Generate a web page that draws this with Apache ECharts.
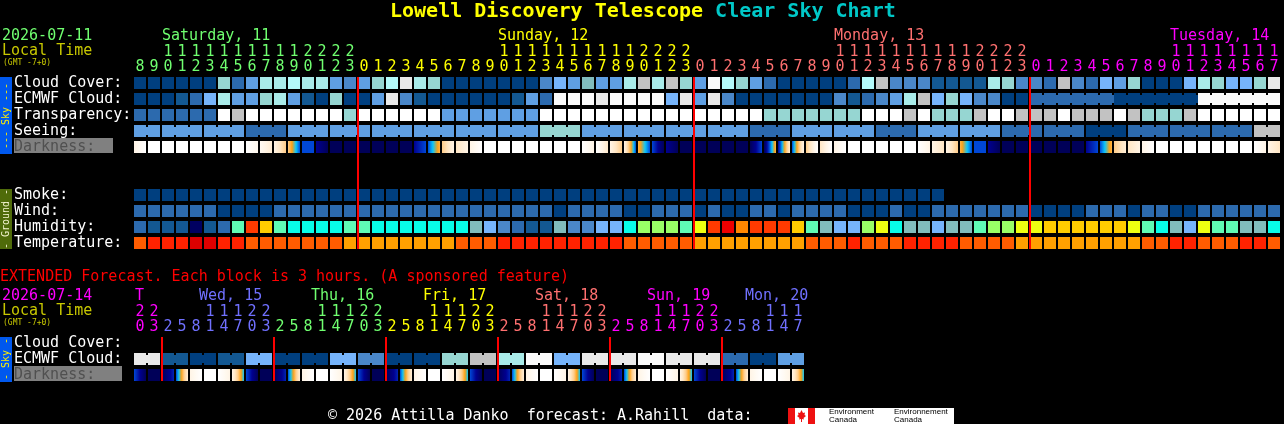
<!DOCTYPE html>
<html>
<head>
<meta charset="utf-8">
<style>html,body{margin:0;padding:0;background:#000;overflow:hidden}#c{width:1284px;height:424px}</style>
<script src="https://cdn.jsdelivr.net/npm/echarts@6/dist/echarts.min.js"></script>
</head>
<body>
<div id="c"></div>
<script>
// ---------- data ----------
const hoursMain = ["08","09","10","11","12","13","14","15","16","17","18","19","20","21","22","23",
 "00","01","02","03","04","05","06","07","08","09","10","11","12","13","14","15","16","17","18","19","20","21","22","23",
 "00","01","02","03","04","05","06","07","08","09","10","11","12","13","14","15","16","17","18","19","20","21","22","23",
 "00","01","02","03","04","05","06","07","08","09","10","11","12","13","14","15","16","17"];
const hoursExt = ["20","23","02","05","08","11","14","17","20","23","02","05","08","11","14","17","20","23",
 "02","05","08","11","14","17","20","23","02","05","08","11","14","17","20","23","02","05","08","11","14","17","20","23",
 "02","05","08","11","14","17"];
const rowsMain = ["Cloud Cover:","ECMWF Cloud:","Transparency:","Seeing:","Darkness:","","","Smoke:","Wind:","Humidity:","Temperature:"];
const rowsExt = ["Cloud Cover:","ECMWF Cloud:","Darkness:"];

const cloud = [0,0,0,0,0,0,7,2,4,8,8,12,8,8,4,3,4,7,12,10,8,7,
 0,0,0,0,0,0,0,3,5,4,6,4,4,8,9,8,9,7,4,11,12,7,4,2,0,0,0,0,0,2,
 12,9,3,3,3,1,1,1,1,8,7,3,3,2,9,3,2,5,4,7,0,0,0,5,8,7,5,5,7,10];
const ecmwf = [0,0,0,1,2,5,8,4,4,7,8,4,1,0,7,0,0,4,10,3,1,0,
 0,0,0,0,0,1,4,2,11,11,11,10,11,11,11,11,5,10,4,10,3,0,0,0,0,0,0,0,3,1,
 2,3,4,8,9,5,7,5,3,3,0,0,2,2,2,2,2,2,0,0,0,0,0,0,11,11,11,11,11,11];
const transparency = [2,2,2,2,2,2,13,9,13,13,13,13,13,13,13,7,13,13,13,13,13,13,
 4,4,4,4,4,4,4,13,13,13,13,13,13,13,13,13,13,13,13,13,13,13,13,7,7,7,7,7,7,7,
 13,13,13,9,13,7,7,7,9,13,13,9,9,9,13,9,9,9,13,9,7,7,7,9,13,13,13,13,13,13];
const seeing = [4,4,4,4,4,4,4,4,2,2,2,4,4,4,4,4,4,4,4,4,4,4,4,
 4,4,4,4,4,4,7,7,7,4,4,4,4,4,4,4,4,4,4,4,4,2,2,2,4,4,4,4,4,4,
 2,2,2,4,4,4,4,4,4,2,2,2,2,2,2,0,0,0,2,2,2,2,2,2,2,2,2,9,9];
const darkStart = [1,0,0,0,0,0,0,0,0,0.5,1,3,6,7,8,8,8,8,8,8,7,6,
 3,2,1,0,0,0,0,0,0,0,0,0,1,1,3.5,6,7,8,8,8,8,8,8,8,7,6,3,2,1,0,
 0,0,0,0,0,1,1,3.5,6,7,8,8,8,8,8,8,7,6,3,2,1,0,0,0,0,0,0,0,0,1];
const darkEnd = [0,0,0,0,0,0,0,0,0.7,1.6,3,6,6,8,8,8,8,8,8,8,6,3.5,
 1,1,0,0,0,0,0,0,0,0,1,1.8,3,6,6,8,8,8,8,8,8,8,6,3.5,1.5,1,0,0,0,0,
 0,0,0,0,1,2,3,6,6,8,8,8,8,8,8,8,6,3.5,1.5,1,0,0,0,0,0,0,0,0,1,2];
const smoke = [0,0,0,0,0,0,0,0,0,0,0,0,0,0,0,0,0,0,0,0,0,0,0,0,0,0,0,0,0,0,
 0,0,0,0,0,0,0,0,0,0,0,0,0,0,0,0,0,0,0,0,0,0,0,0,0,0,0,0];
const wind = [2,2,2,2,2,2,0,0,0,0,2,2,2,2,2,2,2,2,2,2,2,
 2,2,2,2,2,2,2,2,2,0,2,2,2,2,0,0,2,2,2,0,2,0,0,2,2,0,2,2,2,2,0,
 0,0,2,0,0,2,2,2,2,2,2,2,0,0,0,0,2,2,2,0,2,2,0,0,2,2,2,2,2,2];
const humidity = [2,1,1,1,14,1,2,15,16,17,15,18,18,18,18,15,15,18,18,18,18,
 18,18,18,6,5,3,2,1,1,6,3,3,5,5,18,19,19,19,15,20,16,21,22,16,16,16,17,15,6,5,5,
 19,20,18,6,6,5,6,6,15,19,19,20,20,17,17,17,17,17,17,20,15,18,6,5,20,15,15,6,6,18];
const temperature = [1,2,2,2,3,3,2,2,1,1,1,1,1,1,1,0,0,0,0,0,0,
 0,0,1,1,1,2,2,2,2,2,2,2,2,2,1,1,1,1,1,0,0,0,0,0,0,0,0,1,1,1,2,
 1,1,1,2,2,2,2,1,1,1,1,0,0,0,0,0,0,0,0,0,1,1,2,2,1,1,1,2,2,1];

const extEcmwf = [10,10,1,1,0,0,1,1,5,5,0,0,0,0,5,5,3,3,0,0,0,0,7,7,9,9,8,8,11,11,5,5,10,10,10,10,11,11,10,10,10,10,2,2,0,0,4,4];
const extDarkStart = [6,8,8,6,1,0,0,1,6,8,8,6,1,0,0,1,6,8,8,6,1,0,0,1,6,8,8,6,1,0,0,1,6,8,8,6,1,0,0,1,6,8,8,6,1,0,0,1];
const extDarkEnd = [8,8,6.5,1.5,0,0,1,5,8,8,6.5,1.5,0,0,1,5,8,8,6.5,1.5,0,0,1,5,8,8,6.5,1.5,0,0,1,5,8,8,6.5,1.5,0,0,1,5,8,8,6.5,1.5,0,0,1,5];

const midnightColsMain = [16,40,64];
const midnightColsExt = [2,10,18,26,34,42];
const ecmwfBlockStart = 64;

const dayTextMain = [["Saturday, 11",162,"#70ff70"],["Sunday, 12",498,"#ffff00"],["Monday, 13",834,"#ff7070"],["Tuesday, 14",1170,"#ff00ff"]];
const dayTextExt = [["T",135,"#ff00ff"],["Wed, 15",199,"#7070ff"],["Thu, 16",311,"#70ff70"],["Fri, 17",423,"#ffff00"],["Sat, 18",535,"#ff7070"],["Sun, 19",647,"#ff00ff"],["Mon, 20",745,"#7070ff"]];
const dayEndsMain = [[16,"#70ff70"],[40,"#ffff00"],[64,"#ff7070"],[82,"#ff00ff"]];
const dayEndsExt = [[2,"#ff00ff"],[10,"#7070ff"],[18,"#70ff70"],[26,"#ffff00"],[34,"#ff7070"],[42,"#ff00ff"],[48,"#7070ff"]];

// ---------- palettes ----------
const skyPalette = ["#003f7f","#135892","#2c6aae","#4a87c9","#5f9fe3","#76b4fb","#81bcbc","#96d6d2","#a9ebe9","#c2c2c2","#e9e9e9","#fafafa","#b4fafa","#ffffff",
 "#000060","#5ffbb5","#ff3a00","#ffcc00","#08fde8","#99ff66","#eeff11","#ee0000","#ff8800"];
const tempPalette = ["#ffa000","#ff5c00","#ff2200","#dd0000"];
const darkRamp = ["#ffffff","#fff4e6","#ffe6c4","#ffcc88","#ffa010","#08c8ff","#0047d6","#000090","#000058"];

function hex(c){return [1,3,5].map(i=>parseInt(c.substr(i,2),16));}
function rampAt(t){
  const i=Math.min(Math.floor(t),darkRamp.length-2), f=t-i, a=hex(darkRamp[i]), b=hex(darkRamp[i+1]);
  return 'rgb('+a.map((v,k)=>Math.round(v+(b[k]-v)*f)).join(',')+')';
}
const MONO = '"DejaVu Sans Mono","Liberation Mono",monospace';

// ---------- marks ----------
function cellRender(params, api){
  const p=api.coord([api.value(0),api.value(1)]), s=api.size([1,1]);
  const w=s[0]-2, h=s[1]-4, x=p[0]-w/2, y=p[1]-h/2;
  const fill=params.seriesName.indexOf('temp')===0?tempPalette[api.value(2)]:skyPalette[api.value(2)];
  const children=[{type:'rect',shape:{x,y,width:w,height:h},style:{fill}}];
  if(api.value(3)) children.push({type:'rect',shape:{x:x+w,y:y+2,width:2,height:h-4},style:{fill}});
  return {type:'group',children};
}
function darkRender(params, api){
  const p=api.coord([api.value(0),api.value(1)]), s=api.size([1,1]);
  const w=s[0]-2, h=s[1]-4, a=api.value(2), b=api.value(3), stops=[];
  for(let i=0;i<=12;i++){stops.push({offset:i/12,color:rampAt(a+(b-a)*i/12)});}
  return {type:'rect',shape:{x:p[0]-w/2,y:p[1]-h/2,width:w,height:h},
    style:{fill:{type:'linear',x:0,y:0,x2:1,y2:0,colorStops:stops}}};
}
function cells(name,row,vals,grid,joinFn){
  return {name,type:'custom',xAxisIndex:grid,yAxisIndex:grid,silent:true,animation:false,clip:false,
    renderItem:cellRender,data:vals.map((v,c)=>[c,row,v,joinFn&&c<vals.length-1&&joinFn(c)?1:0])};
}
function darks(name,row,st,en,grid){
  return {name,type:'custom',xAxisIndex:grid,yAxisIndex:grid,silent:true,animation:false,clip:false,
    renderItem:darkRender,data:st.map((v,c)=>[c,row,v,en[c]])};
}
function redLines(cols,rowCount,grid){
  return {name:'midnight'+grid,type:'custom',xAxisIndex:grid,yAxisIndex:grid,silent:true,animation:false,clip:false,z:5,
    renderItem(params,api){
      const c=api.value(0), top=api.coord([c,0]), bot=api.coord([c,rowCount-1]), s=api.size([1,1]);
      const x=top[0]-s[0]/2, y0=top[1]-s[1]/2+2, y1=bot[1]+s[1]/2-2;
      return {type:'rect',shape:{x,y:y0,width:2,height:y1-y0},style:{fill:'#ff0000'}};
    },data:cols.map(c=>[c,0])};
}
function colorOf(ends,i){ for(const e of ends){ if(i<e[0]) return e[1]; } return '#fff'; }
function hourAxis(data,grid,ends,tens){
  return {type:'category',gridIndex:grid,position:'top',data,offset:tens?15:0,
    axisLine:{show:false},axisTick:{show:false},splitLine:{show:false},
    axisLabel:{show:true,interval:0,margin:0,fontFamily:MONO,fontSize:15,hideOverlap:false,
      formatter:(v)=>tens?(v[0]==='0'?'':v[0]):v[1],
      color:(v,i)=>colorOf(ends,i)}};
}
function rowAxis(data,grid){
  return {type:'category',gridIndex:grid,inverse:true,data,
    axisLine:{show:false},axisTick:{show:false},splitLine:{show:false},
    axisLabel:{show:true,interval:0,margin:119,align:'left',fontFamily:MONO,fontSize:15,color:'#ffffff',
      formatter:v=>v==='Darkness:'?'{dark|'+v+'}':v,
      rich:{dark:{color:'#505050',fontFamily:MONO,fontSize:15}}}};
}
function txt(text,x,y,fill,size,extra){
  return Object.assign({type:'text',x,y,silent:true,style:{text,fill,font:(size||15)+'px '+MONO,textVerticalAlign:'middle',textAlign:'left'}},extra||{});
}
function bar(x,y,w,h,fill){return {type:'rect',silent:true,z:-1,shape:{x,y,width:w,height:h},style:{fill}};}
function sideText(text,cx,cy,fill){
  return {type:'text',silent:true,x:cx,y:cy,rotation:Math.PI/2,
    style:{text,fill,font:'10px '+MONO,textAlign:'center',textVerticalAlign:'middle'}};
}

// ---------- chart ----------
const graphics=[
  bar(0,77,12,77,'#0058ee'), sideText('--- Sky ---',6,116,'#ffee00'),
  bar(0,189,12,60,'#4f6b0a'), sideText('- Ground -',6,219,'#f4f4d0'),
  bar(0,337,12,45,'#0058ee'), sideText('- Sky -',6,359,'#ffee00'),
  bar(14,138,99,15,'#808080'), bar(14,366,108,15,'#808080'),
  txt('2026-07-11',2,36,'#70ff70'), txt('Local Time',2,51,'#c8c800'), txt('(GMT -7+0)',3,63,'#c8c800',8),
  txt('EXTENDED Forecast. Each block is 3 hours. (A sponsored feature)',0,277,'#ff0000'),
  txt('2026-07-14',2,296,'#ff00ff'), txt('Local Time',2,311,'#c8c800'), txt('(GMT -7+0)',3,323,'#c8c800',8),
  txt('\u00a9 2026 Attilla Danko  forecast: A.Rahill  data:',328,416,'#ffffff'),
  bar(788,408,166,16,'#ffffff'), bar(788,408,7,16,'#ee1111'), bar(808,408,7,16,'#ee1111'),
  {type:'polygon',silent:true,shape:{points:[[801.5,410],[803,413],[805,412.5],[804.5,415],[806,416],[803.5,418],[804,419.5],[802,419],[802,422],[801,422],[801,419],[799,419.5],[799.5,418],[797,416],[798.5,415],[798,412.5],[800,413]]},style:{fill:'#ee1111'}},
  {type:'text',silent:true,x:829,y:412,style:{text:'Environment',fill:'#000',font:'8px "Liberation Sans",sans-serif',textVerticalAlign:'middle'}},
  {type:'text',silent:true,x:829,y:420,style:{text:'Canada',fill:'#000',font:'8px "Liberation Sans",sans-serif',textVerticalAlign:'middle'}},
  {type:'text',silent:true,x:894,y:412,style:{text:'Environnement',fill:'#000',font:'8px "Liberation Sans",sans-serif',textVerticalAlign:'middle'}},
  {type:'text',silent:true,x:894,y:420,style:{text:'Canada',fill:'#000',font:'8px "Liberation Sans",sans-serif',textVerticalAlign:'middle'}}
];
dayTextMain.forEach(d=>graphics.push(txt(d[0],d[1],36,d[2])));
dayTextExt.forEach(d=>graphics.push(txt(d[0],d[1],296,d[2])));

const seeingJoin=c=>(c-1)%3!==0;
const option={
  backgroundColor:'#000000',
  animation:false,
  title:{left:390,top:2,padding:0,text:'{a|Lowell Discovery Telescope }{b|Clear Sky Chart}',
    textStyle:{rich:{a:{color:'#ffff00',fontFamily:MONO,fontSize:20,fontWeight:'bold'},b:{color:'#00c8c8',fontFamily:MONO,fontSize:20,fontWeight:'bold'}}}},
  grid:[{left:133,top:75,width:14*82,height:16*11},{left:133,top:335,width:14*48,height:48}],
  xAxis:[hourAxis(hoursMain,0,dayEndsMain,false),hourAxis(hoursExt,1,dayEndsExt,false),
         hourAxis(hoursMain,0,dayEndsMain,true),hourAxis(hoursExt,1,dayEndsExt,true)],
  yAxis:[rowAxis(rowsMain,0),rowAxis(rowsExt,1)],
  graphic:{elements:graphics},
  series:[
    cells('cloud',0,cloud,0),
    cells('ecmwf',1,ecmwf,0,c=>c>=ecmwfBlockStart),
    cells('transparency',2,transparency,0),
    cells('seeing',3,seeing,0,seeingJoin),
    darks('darkness',4,darkStart,darkEnd,0),
    cells('smoke',7,smoke,0),
    cells('wind',8,wind,0),
    cells('humidity',9,humidity,0),
    cells('temperature',10,temperature,0),
    redLines(midnightColsMain,11,0),
    cells('extEcmwf',1,extEcmwf,1,c=>c%2===0),
    darks('extDarkness',2,extDarkStart,extDarkEnd,1),
    redLines(midnightColsExt,3,1)
  ]
};
const chart=echarts.init(document.getElementById('c'),null,{renderer:'canvas',width:1284,height:424});
chart.setOption(option);
</script>
</body>
</html>
